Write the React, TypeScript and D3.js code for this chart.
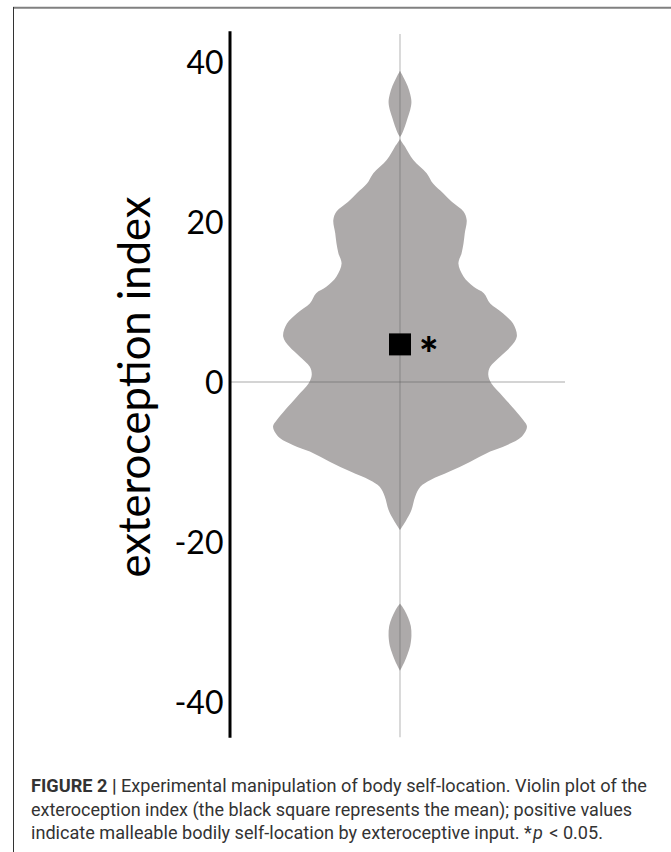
import React, { useEffect, useRef } from "react";
import * as d3 from "d3";

// violin outline: index value and relative density (1 = widest)
const violinValues = [
  38.9, 38, 37, 36, 35, 34, 33, 32, 31, 30.5, 29.4, 27.75, 26.1, 24.8, 23.6, 22.5, 21.3,
  20.25, 18.6, 17.3, 16.1, 14.8, 13.2, 11.9, 11.1, 9.8, 8.6, 7.3, 5.7, 4.4, 3.2, 1.9, 0.9,
  -0.2, -1.8, -3.5, -4.75, -5.6, -6.8, -7.9, -8.7, -10, -11.2, -12.25, -13.1, -14.3, -16,
  -17.25, -18.5,
];
const violinDensity = [
  0, 0.03, 0.06, 0.08, 0.09, 0.08, 0.06, 0.04, 0.015, 0, 0.04, 0.105, 0.21, 0.26, 0.34,
  0.41, 0.5, 0.525, 0.51, 0.5, 0.485, 0.46, 0.5, 0.58, 0.66, 0.71, 0.81, 0.89, 0.92, 0.87,
  0.79, 0.71, 0.695, 0.72, 0.81, 0.905, 0.97, 1, 0.96, 0.84, 0.71, 0.55, 0.39, 0.24, 0.16,
  0.12, 0.09, 0.05, 0,
];
// the lone outlier lobe near -32
const lobeValues = [-27.7, -28.5, -29.5, -30.5, -31.7, -33, -34, -35, -36.1];
const lobeDensity = [0, 0.035, 0.065, 0.085, 0.09, 0.08, 0.06, 0.035, 0];

const meanValue = 4.7;
const tickValues = [40, 20, 0, -20, -40];
const tickLabels = ["40", "20", "0", "-20", "-40"];
const axisTitle = "exteroception index";

const App = () => {
  const svgRef = useRef<SVGSVGElement | null>(null);

  useEffect(() => {
    const svg = d3.select(svgRef.current);
    svg.selectAll("*").remove();

    const y = d3.scaleLinear().domain([-44.4, 43.9]).range([737.2, 30.8]);
    const cx = 400;
    const w = d3.scaleLinear().domain([0, 1]).range([0, 127]);
    const guide = "rgba(90,90,90,0.35)";

    // page frame
    svg.append("line").attr("x1", 13).attr("x2", 671).attr("y1", 7.7).attr("y2", 7.7)
      .attr("stroke", "#808080").attr("stroke-width", 2);
    svg.append("line").attr("x1", 13.5).attr("x2", 13.5).attr("y1", 7).attr("y2", 852)
      .attr("stroke", "#333").attr("stroke-width", 1);

    const area = d3.area<[number, number]>()
      .y((d) => y(d[0]))
      .x0((d) => cx - w(d[1]))
      .x1((d) => cx + w(d[1]))
      .curve(d3.curveCatmullRom.alpha(0.5));

    const main = violinValues.map((v, i) => [v, violinDensity[i]] as [number, number]);
    const lobe = lobeValues.map((v, i) => [v, lobeDensity[i]] as [number, number]);

    svg.selectAll(".violin")
      .data([main, lobe])
      .join("path")
      .attr("class", "violin")
      .attr("d", (d) => area(d))
      .attr("fill", "#adaaaa");

    // center and zero guide lines
    svg.append("line").attr("x1", cx).attr("x2", cx).attr("y1", y(43.5)).attr("y2", y(-44.4))
      .attr("stroke", guide).attr("stroke-width", 1.3);
    svg.append("line").attr("x1", 229).attr("x2", 565).attr("y1", y(0)).attr("y2", y(0))
      .attr("stroke", guide).attr("stroke-width", 1.3);

    // axis
    const axis = svg.append("g")
      .attr("transform", "translate(229.5,0)")
      .call(
        d3.axisLeft(y)
          .tickValues(tickValues)
          .tickSize(0)
          .tickSizeOuter(0)
          .tickPadding(6)
          .tickFormat((_d, i) => tickLabels[i])
      );
    axis.select(".domain").attr("stroke", "#000").attr("stroke-width", 3);
    axis.selectAll("text")
      .attr("dy", "0.36em")
      .attr("font-family", "Lato, sans-serif")
      .attr("font-size", 32)
      .attr("fill", "#000");

    svg.append("text")
      .attr("transform", `translate(150,${387}) rotate(-90)`)
      .attr("text-anchor", "middle")
      .attr("font-family", "Lato, sans-serif")
      .attr("font-size", 44)
      .attr("textLength", 381)
      .attr("lengthAdjust", "spacingAndGlyphs")
      .text(axisTitle);

    // mean marker
    const size = 22;
    svg.append("rect")
      .attr("x", cx - size / 2)
      .attr("y", y(meanValue) - size / 2)
      .attr("width", size)
      .attr("height", size)
      .attr("fill", "#000");
    svg.append("text")
      .attr("x", 419)
      .attr("y", y(meanValue) + 27)
      .attr("font-family", "Lato, sans-serif")
      .attr("font-weight", 900)
      .attr("font-size", 46)
      .text("*");

    // caption
    const cap = svg.append("g")
      .attr("font-family", "Roboto, sans-serif")
      .attr("font-size", 18.5)
      .attr("fill", "#333");
    const l1 = cap.append("text").attr("x", 31).attr("y", 792)
      .attr("textLength", 616).attr("lengthAdjust", "spacingAndGlyphs");
    l1.append("tspan").attr("font-weight", "bold").text("FIGURE 2 | ");
    l1.append("tspan").text("Experimental manipulation of body self-location. Violin plot of the");
    cap.append("text").attr("x", 31).attr("y", 815.5)
      .attr("textLength", 601).attr("lengthAdjust", "spacingAndGlyphs")
      .text("exteroception index (the black square represents the mean); positive values");
    const l3 = cap.append("text").attr("x", 31).attr("y", 839)
      .attr("textLength", 572).attr("lengthAdjust", "spacingAndGlyphs");
    l3.append("tspan").text("indicate malleable bodily self-location by exteroceptive input. *");
    l3.append("tspan").attr("dx", 1).attr("font-style", "italic").text("p");
    l3.append("tspan").attr("dx", 2).text(" < 0.05.");
  }, []);

  return (
    <svg
      ref={svgRef}
      width={671}
      height={852}
      style={{ position: "absolute", left: 0, top: 0, background: "#fff" }}
    />
  );
};

export default App;
